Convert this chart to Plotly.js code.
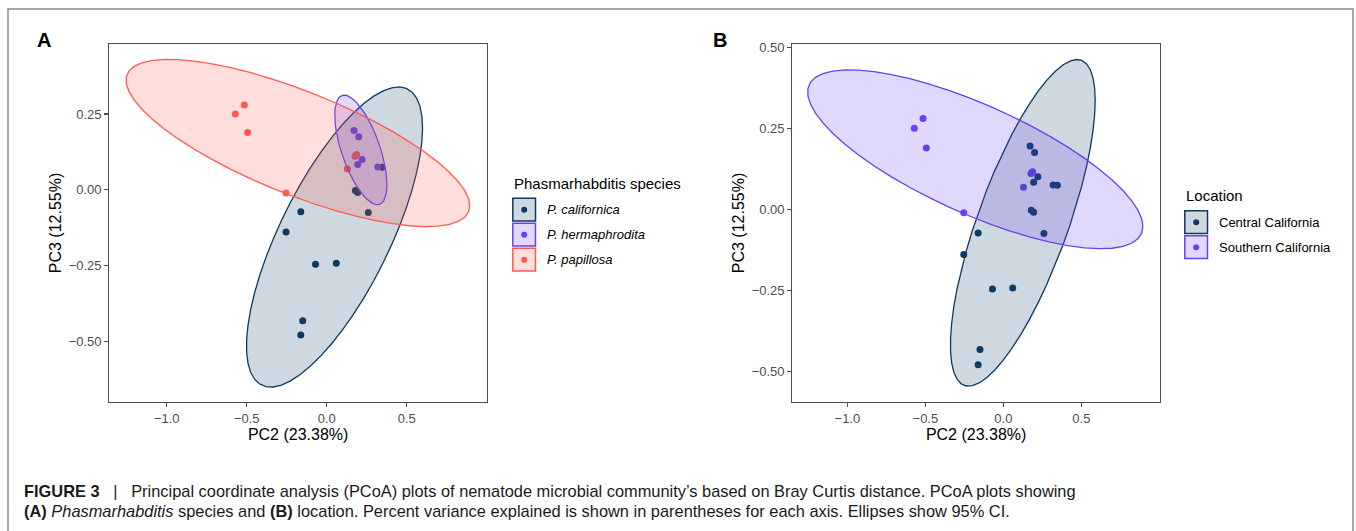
<!DOCTYPE html>
<html>
<head>
<meta charset="utf-8">
<script src="https://cdn.plot.ly/plotly-3.0.1.min.js"></script>
<style>
html,body{margin:0;padding:0;background:#fff;}
#chart{width:1356px;height:531px;}
</style>
</head>
<body>
<div id="chart"></div>
<script>
// ---------------- DATA ----------------
const californicaPC2 = [0.346, 0.179, 0.194, 0.260, -0.162, -0.254, -0.070, 0.060, -0.150, -0.162];
const californicaPC3 = [0.074, -0.003, -0.009, -0.075, -0.073, -0.140, -0.246, -0.243, -0.433, -0.480];
const hermaphroditaPC2 = [0.171, 0.200, 0.221, 0.194, 0.319];
const hermaphroditaPC3 = [0.195, 0.175, 0.100, 0.083, 0.075];
const papillosaPC2 = [-0.515, -0.571, -0.494, -0.254, 0.129, 0.177, 0.187];
const papillosaPC3 = [0.280, 0.250, 0.189, -0.011, 0.068, 0.110, 0.116];

// Location grouping (panel B): Central = P. californica + P. hermaphrodita samples, Southern = P. papillosa samples
const centralPC2 = californicaPC2.concat(hermaphroditaPC2);
const centralPC3 = californicaPC3.concat(hermaphroditaPC3);
const southernPC2 = papillosaPC2.slice();
const southernPC3 = papillosaPC3.slice();

const speciesNames = ["P. californica", "P. hermaphrodita", "P. papillosa"];
const locationNames = ["Central California", "Southern California"];
const xTickVals = [-1.0, -0.5, 0.0, 0.5];
const xTickText = ["\u22121.0", "\u22120.5", "0.0", "0.5"];
const yTickValsA = [0.25, 0.0, -0.25, -0.5];
const yTickTextA = ["0.25", "0.00", "\u22120.25", "\u22120.50"];
const yTickValsB = [0.5, 0.25, 0.0, -0.25, -0.5];
const yTickTextB = ["0.50", "0.25", "0.00", "\u22120.25", "\u22120.50"];

// ---------------- STYLE ----------------
const NAVY = "rgb(12,58,98)";
const PURPLE = "rgb(104,64,246)";
const RED = "rgb(255,90,80)";
function alpha(c, a){ return c.replace("rgb(", "rgba(").replace(")", ","+a+")"); }

// ---------------- 95% t ellipse (as ggplot2::stat_ellipse, type = "t") ----------------
function covTrob(xs, ys, nu, maxit, tol){
  nu = nu || 5; maxit = maxit || 25; tol = tol || 0.01;
  const n = xs.length, p = 2;
  let w = new Array(n).fill(1);
  let loc = [xs.reduce((s,v)=>s+v,0)/n, ys.reduce((s,v)=>s+v,0)/n];
  let X = null;
  for (let it = 0; it < maxit; it++){
    const w0 = w.slice();
    X = xs.map((x,i)=>[x-loc[0], ys[i]-loc[1]]);
    const sw = w.reduce((s,v)=>s+v,0);
    let a=0,b=0,c=0;
    for (let i=0;i<n;i++){ a+=w[i]*X[i][0]*X[i][0]; b+=w[i]*X[i][0]*X[i][1]; c+=w[i]*X[i][1]*X[i][1]; }
    a/=sw; b/=sw; c/=sw;
    const det = a*c-b*b;
    const Q = X.map(v => (c*v[0]*v[0] - 2*b*v[0]*v[1] + a*v[1]*v[1])/det);
    w = Q.map(q => (nu+p)/(nu+q));
    const sw2 = w.reduce((s,v)=>s+v,0);
    loc = [xs.reduce((s,v,i)=>s+w[i]*v,0)/sw2, ys.reduce((s,v,i)=>s+w[i]*v,0)/sw2];
    if (w.every((v,i)=>Math.abs(v-w0[i])<tol)) break;
  }
  let a=0,b=0,c=0;
  for (let i=0;i<n;i++){ a+=w[i]*X[i][0]*X[i][0]; b+=w[i]*X[i][0]*X[i][1]; c+=w[i]*X[i][1]*X[i][1]; }
  return {center:loc, cov:[[a/n,b/n],[b/n,c/n]]};
}
function ellipse(xs, ys, level){
  level = level || 0.95;
  const n = xs.length, dfn = 2, dfd = n-1;
  const fq = (dfd/2)*(Math.pow(1-level, -2/dfd)-1); // qf(level, 2, dfd)
  const r = Math.sqrt(dfn*fq);
  const t = covTrob(xs, ys);
  const a = t.cov[0][0], b = t.cov[0][1], c = t.cov[1][1];
  const R11 = Math.sqrt(a), R12 = b/Math.sqrt(a), R22 = Math.sqrt(c - b*b/a);
  const ex=[], ey=[], seg=51;
  for (let k=0;k<=seg;k++){
    const ang = k*2*Math.PI/seg, co=Math.cos(ang), si=Math.sin(ang);
    ex.push(t.center[0] + r*co*R11);
    ey.push(t.center[1] + r*(co*R12 + si*R22));
  }
  return {x:ex, y:ey};
}

function pts(x, y, color, xa, ya){
  return {type:"scatter", mode:"markers", x:x, y:y, xaxis:xa, yaxis:ya,
    marker:{color:color, size:7, line:{width:0}}, hoverinfo:"skip", showlegend:false};
}
function ell(x, y, color, xa, ya){
  const e = ellipse(x, y, 0.95);
  return {type:"scatter", mode:"lines", x:e.x, y:e.y, xaxis:xa, yaxis:ya, fill:"toself",
    fillcolor:alpha(color,0.2), line:{color:color, width:1.3}, hoverinfo:"skip", showlegend:false};
}

const traces = [
  pts(californicaPC2, californicaPC3, NAVY, "x", "y"),
  pts(hermaphroditaPC2, hermaphroditaPC3, PURPLE, "x", "y"),
  pts(papillosaPC2, papillosaPC3, RED, "x", "y"),
  ell(californicaPC2, californicaPC3, NAVY, "x", "y"),
  ell(hermaphroditaPC2, hermaphroditaPC3, PURPLE, "x", "y"),
  ell(papillosaPC2, papillosaPC3, RED, "x", "y"),
  pts(centralPC2, centralPC3, NAVY, "x2", "y2"),
  pts(southernPC2, southernPC3, PURPLE, "x2", "y2"),
  ell(centralPC2, centralPC3, NAVY, "x2", "y2"),
  ell(southernPC2, southernPC3, PURPLE, "x2", "y2")
];

// ---------------- LAYOUT ----------------
const W = 1356, H = 531;
const px = v => v/W, py = v => 1 - v/H;
const FONT = "Liberation Sans, Arial, Helvetica, sans-serif";

function axisX(domain, range){
  return {domain:domain, range:range, tickvals:xTickVals, ticktext:xTickText,
    showgrid:false, zeroline:false, showline:true, mirror:true, linecolor:"#4d4d4d", linewidth:1.1,
    ticks:"outside", ticklen:4, tickwidth:1.1, tickcolor:"#4d4d4d",
    tickfont:{family:FONT, size:13, color:"#4d4d4d"},
    title:{text:"PC2 (23.38%)", font:{family:FONT, size:16, color:"#000"}, standoff:4}, automargin:false};
}
function axisY(domain, range, tv, tt, anchor){
  return {domain:domain, range:range, tickvals:tv, ticktext:tt, anchor:anchor,
    showgrid:false, zeroline:false, showline:true, mirror:true, linecolor:"#4d4d4d", linewidth:1.1,
    ticks:"outside", ticklen:4, tickwidth:1.1, tickcolor:"#4d4d4d",
    tickfont:{family:FONT, size:13, color:"#4d4d4d"},
    title:{text:"PC3 (12.55%)", font:{family:FONT, size:16, color:"#000"}, standoff:3}, automargin:false};
}

const shapes = [];
const annotations = [];

// figure frame (open at the bottom)
shapes.push({type:"path", xref:"paper", yref:"paper",
  path:`M ${px(8)} ${py(540)} L ${px(8)} ${py(9)} L ${px(1353)} ${py(9)} L ${px(1353)} ${py(540)}`,
  line:{color:"#8a8a8a", width:1.5}});

// panel labels
annotations.push({xref:"paper", yref:"paper", x:px(44), y:py(40), text:"<b>A</b>", showarrow:false,
  xanchor:"center", yanchor:"middle", font:{family:FONT, size:20, color:"#000"}});
annotations.push({xref:"paper", yref:"paper", x:px(720), y:py(40), text:"<b>B</b>", showarrow:false,
  xanchor:"center", yanchor:"middle", font:{family:FONT, size:20, color:"#000"}});

// manual legends (ggplot-style keys)
function legend(title, names, colors, italic, x0, titleY, keyTop, keyH){
  annotations.push({xref:"paper", yref:"paper", x:px(x0), y:py(titleY), text:title, showarrow:false,
    xanchor:"left", yanchor:"middle", font:{family:FONT, size:15, color:"#000"}});
  names.forEach((nm, i) => {
    const top = keyTop + i*keyH, bot = top + keyH - 1.5;
    shapes.push({type:"rect", xref:"paper", yref:"paper", x0:px(x0+0.8), x1:px(x0+23.5), y0:py(bot), y1:py(top+0.8),
      fillcolor:alpha(colors[i],0.2), line:{color:colors[i], width:1.5}});
    const cx = x0+12.2, cy = (top+bot)/2 + 0.4;
    shapes.push({type:"circle", xref:"paper", yref:"paper", x0:px(cx-3), x1:px(cx+3), y0:py(cy+3), y1:py(cy-3),
      fillcolor:colors[i], line:{width:0}});
    annotations.push({xref:"paper", yref:"paper", x:px(x0+33), y:py(cy), text: italic ? "<i>"+nm+"</i>" : nm,
      showarrow:false, xanchor:"left", yanchor:"middle", font:{family:FONT, size:13, color:"#000"}});
  });
}
legend("Phasmarhabditis species", speciesNames, [NAVY, PURPLE, RED], true, 512, 183, 197.5, 25);
legend("Location", locationNames, [NAVY, PURPLE], false, 1184, 195, 210, 25);

// caption
annotations.push({xref:"paper", yref:"paper", x:px(22), y:py(491), showarrow:false, xanchor:"left", yanchor:"middle",
  text:"<b>FIGURE 3</b>\u00a0\u00a0\u00a0|\u00a0\u00a0 Principal coordinate analysis (PCoA) plots of nematode microbial community\u2019s based on Bray Curtis distance. PCoA plots showing",
  font:{family:FONT, size:16.4, color:"#1a1a1a"}});
annotations.push({xref:"paper", yref:"paper", x:px(22), y:py(511), showarrow:false, xanchor:"left", yanchor:"middle",
  text:"<b>(A)</b> <i>Phasmarhabditis</i> species and <b>(B)</b> location. Percent variance explained is shown in parentheses for each axis. Ellipses show 95% CI.",
  font:{family:FONT, size:16.4, color:"#1a1a1a"}});

const layout = {
  width:W, height:H, margin:{l:0, r:0, t:0, b:0},
  paper_bgcolor:"#fff", plot_bgcolor:"#fff", showlegend:false,
  font:{family:FONT},
  xaxis: axisX([px(109.3), px(487)], [-1.359, 1.002]),
  yaxis: axisY([py(402), py(44)], [-0.701, 0.481], yTickValsA, yTickTextA, "x"),
  xaxis2: Object.assign(axisX([px(792.3), px(1160)], [-1.353, 1.004]), {anchor:"y2"}),
  yaxis2: axisY([py(402), py(44)], [-0.595, 0.510], yTickValsB, yTickTextB, "x2"),
  shapes:shapes, annotations:annotations
};
layout.xaxis.anchor = "y";

Plotly.newPlot("chart", traces, layout, {staticPlot:true, displayModeBar:false});
</script>
</body>
</html>
